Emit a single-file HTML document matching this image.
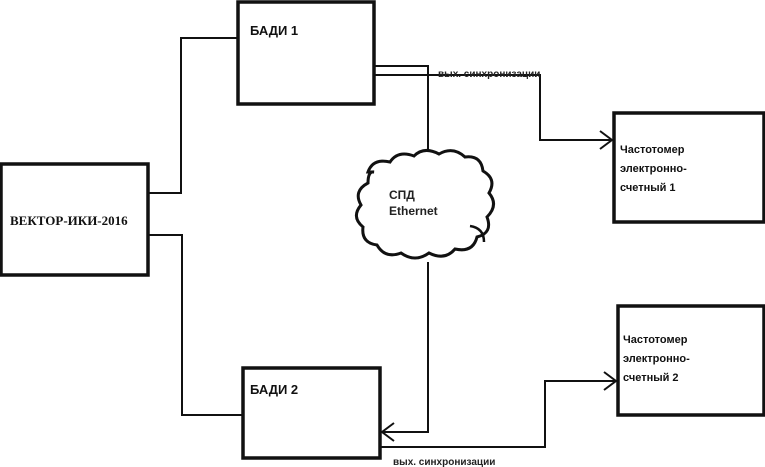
<!DOCTYPE html>
<html><head><meta charset="utf-8"><style>
body{margin:0;background:#fff;}
svg{display:block;font-family:"Liberation Sans",sans-serif;}
</style></head><body>
<svg width="765" height="467" viewBox="0 0 765 467">
<g fill="none" stroke="#111" stroke-width="3.5">
<rect x="1" y="164" width="147" height="111"/>
<rect x="238" y="2" width="136" height="102"/>
<rect x="243" y="368" width="137" height="90"/>
<rect x="614" y="113" width="150" height="109"/>
<rect x="618" y="306" width="146" height="109"/>
</g>
<g fill="none" stroke="#111" stroke-width="2">
<polyline points="148,193 181,193 181,38 238,38"/>
<polyline points="148,235 182,235 182,415 243,415"/>
<polyline points="374,66 428,66 428,160"/>
<polyline points="374,75 540,75 540,140 612,140"/>
<polyline points="600,131 612,140 600,149"/>
<polyline points="428,262 428,432 382,432"/>
<polyline points="394,423 382,432 394,441"/>
<polyline points="380,447 545,447 545,381 616,381"/>
<polyline points="604,372 616,381 604,390"/>
</g>
<path d="M368,172 q5,-14 22,-10 q8,-12 24,-6 q10,-10 25,-2 q14,-8 26,3 q16,-2 18,14 q14,8 6,22 q10,12 -2,24 q6,16 -10,20 q-4,16 -22,12 q-10,12 -26,4 q-14,10 -28,0 q-16,6 -24,-8 q-16,-2 -14,-18 q-12,-10 -2,-22 q-8,-14 7,-22 q0,-12 6,-11 z" fill="#fff" stroke="#111" stroke-width="3"/>
<path d="M470,226 q14,2 14,16" fill="none" stroke="#111" stroke-width="2.5"/>
<text x="389" y="199" font-size="12" font-weight="bold" fill="#222">СПД</text>
<text x="389" y="215" font-size="12" font-weight="bold" fill="#222">Ethernet</text>
<text x="10" y="225" font-size="13" font-weight="bold" font-family="Liberation Serif,serif" fill="#111">ВЕКТОР-ИКИ-2016</text>
<text x="250" y="35" font-size="13" font-weight="bold" fill="#111">БАДИ 1</text>
<text x="250" y="394" font-size="13" font-weight="bold" fill="#111">БАДИ 2</text>
<text x="620" y="153" font-size="11" font-weight="bold" fill="#111">Частотомер</text>
<text x="620" y="172" font-size="11" font-weight="bold" fill="#111">электронно-</text>
<text x="620" y="191" font-size="11" font-weight="bold" fill="#111">счетный 1</text>
<text x="623" y="343" font-size="11" font-weight="bold" fill="#111">Частотомер</text>
<text x="623" y="362" font-size="11" font-weight="bold" fill="#111">электронно-</text>
<text x="623" y="381" font-size="11" font-weight="bold" fill="#111">счетный 2</text>
<text x="438" y="77" font-size="10" font-weight="bold" fill="#222">вых. синхронизации</text>
<text x="393" y="465" font-size="10" font-weight="bold" fill="#222">вых. синхронизации</text>
</svg>
</body></html>
